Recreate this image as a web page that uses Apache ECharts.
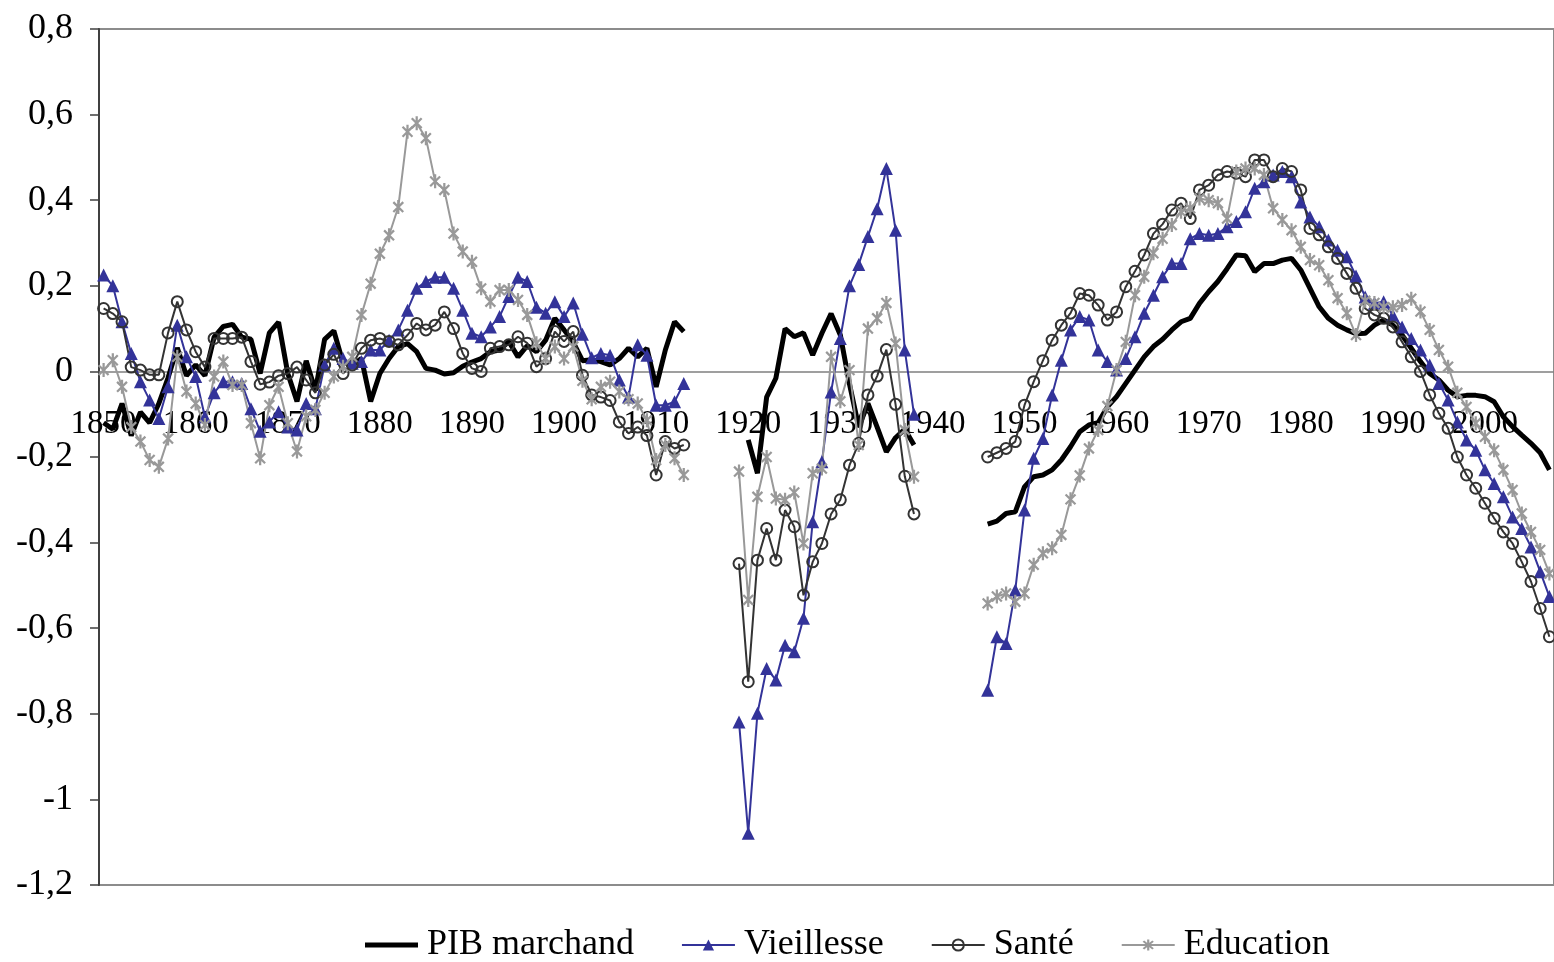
<!DOCTYPE html>
<html>
<head>
<meta charset="utf-8">
<script src="https://cdn.jsdelivr.net/npm/echarts@6/dist/echarts.min.js"></script>
<style>
  html, body { margin: 0; padding: 0; background: #ffffff; }
  #chart { width: 1554px; height: 962px; }
</style>
</head>
<body>
<div id="chart"></div>
<script>
// Years 1850..2007 (one category per year)
const firstYear = 1850;
const lastYear = 2007;
const years = [];
for (let y = firstYear; y <= lastYear; y++) years.push(String(y));

const yTicks = { min: -1.2, max: 0.8, step: 0.2 };

const seriesNames = ['PIB marchand', 'Vieillesse', 'Santé', 'Education'];

// PIB marchand
const pib = [
  -0.12, -0.135, -0.075, -0.15, -0.095, -0.12, -0.075, -0.015, 0.055, -0.01,
  0.015, -0.01, 0.08, 0.105, 0.11, 0.08, 0.075, -0.005, 0.09, 0.115,
  -0.005, -0.07, 0.025, -0.045, 0.075, 0.095, 0.02, 0.015, 0.03, -0.07,
  -0.005, 0.03, 0.058, 0.065, 0.046, 0.007, 0.003, -0.006, -0.003, 0.012,
  0.022, 0.03, 0.046, 0.05, 0.07, 0.034, 0.06, 0.046, 0.073, 0.124,
  0.097, 0.068, 0.025, 0.027, 0.023, 0.015, 0.03, 0.054, 0.034, 0.054,
  -0.036, 0.05, 0.116, 0.093,
  null, null, null, null, null, null,
  -0.16, -0.238, -0.06, -0.016, 0.1, 0.081, 0.09, 0.038, 0.089, 0.135,
  0.085, -0.03, -0.13, -0.075, -0.13, -0.188, -0.155, -0.135, -0.172,
  null, null, null, null, null, null, null,
  -0.357, -0.35, -0.332, -0.328, -0.27, -0.246, -0.242, -0.23, -0.207, -0.176,
  -0.141, -0.125, -0.12, -0.083, -0.059, -0.028, 0.003, 0.034, 0.058, 0.075,
  0.097, 0.116, 0.124, 0.159, 0.186, 0.21, 0.24, 0.272, 0.27, 0.233,
  0.252, 0.252, 0.26, 0.264, 0.237, 0.194, 0.151, 0.124, 0.108, 0.097,
  0.088, 0.089, 0.108, 0.12, 0.108, 0.085, 0.054, 0.023, -0.005, -0.02,
  -0.044, -0.059, -0.056, -0.056, -0.059, -0.071, -0.106, -0.129, -0.149, -0.168,
  -0.19, -0.23
];

// Vieillesse
const vieillesse = [
  0.225, 0.2, 0.116, 0.042, -0.024, -0.067, -0.11, -0.036, 0.108, 0.034,
  -0.012, -0.106, -0.05, -0.024, -0.024, -0.028, -0.087, -0.14, -0.118, -0.094,
  -0.13, -0.137, -0.075, -0.087, 0.015, 0.054, 0.03, 0.019, 0.023, 0.05,
  0.05, 0.073, 0.097, 0.143, 0.194, 0.21, 0.22, 0.22, 0.194, 0.143,
  0.089, 0.081, 0.104, 0.128, 0.175, 0.22, 0.21, 0.15, 0.136, 0.163,
  0.128, 0.16, 0.087, 0.032, 0.042, 0.038, -0.02, -0.06, 0.062, 0.038,
  -0.079, -0.079, -0.071, -0.028,
  null, null, null, null, null,
  -0.819, -1.079, -0.799, -0.694, -0.721, -0.64, -0.655, -0.577, -0.351, -0.211,
  -0.048, 0.077, 0.2, 0.25, 0.315, 0.38, 0.474, 0.33, 0.05, -0.1,
  null, null, null, null, null, null, null,
  -0.745, -0.62, -0.636, -0.511, -0.324, -0.203, -0.157, -0.055, 0.026, 0.097,
  0.128, 0.12, 0.05, 0.023, 0.003, 0.03, 0.081, 0.136, 0.178, 0.221,
  0.252, 0.252, 0.31, 0.322, 0.318, 0.322, 0.338, 0.35, 0.373, 0.428,
  0.443, 0.459, 0.467, 0.455, 0.396, 0.361, 0.338, 0.307, 0.283, 0.268,
  0.223, 0.174, 0.159, 0.163, 0.132, 0.104, 0.077, 0.05, 0.015, -0.028,
  -0.067, -0.118, -0.16, -0.184, -0.23, -0.262, -0.293, -0.34, -0.367, -0.41,
  -0.468, -0.526
];

// Santé
const sante = [
  0.147, 0.135, 0.116, 0.01, 0.003, -0.008, -0.008, 0.09, 0.163, 0.097,
  0.046, 0.01, 0.077, 0.077, 0.077, 0.08, 0.023, -0.03, -0.025, -0.01,
  -0.005, 0.01, -0.02, -0.05, 0.015, 0.04, -0.005, 0.015, 0.054, 0.073,
  0.077, 0.07, 0.062, 0.085, 0.112, 0.097, 0.108, 0.139, 0.1, 0.042,
  0.007, 0.0, 0.054, 0.058, 0.062, 0.081, 0.066, 0.011, 0.03, 0.093,
  0.07, 0.093, -0.009, -0.055, -0.06, -0.068, -0.118, -0.145, -0.13, -0.15,
  -0.242, -0.164, -0.18, -0.172,
  null, null, null, null, null,
  -0.449, -0.725, -0.441, -0.367, -0.441, -0.324, -0.363, -0.523, -0.445, -0.402,
  -0.333, -0.3, -0.219, -0.168, -0.055, -0.011, 0.051, -0.077, -0.245, -0.333,
  null, null, null, null, null, null, null,
  -0.2, -0.19, -0.18, -0.164, -0.079, -0.024, 0.025, 0.073, 0.108, 0.136,
  0.182, 0.178, 0.155, 0.12, 0.139, 0.198, 0.234, 0.272, 0.322, 0.344,
  0.377, 0.393, 0.357, 0.424, 0.435, 0.459, 0.467, 0.463, 0.455, 0.494,
  0.494, 0.455, 0.474, 0.467, 0.424, 0.334, 0.319, 0.291, 0.264, 0.229,
  0.194, 0.147, 0.132, 0.124, 0.104, 0.069, 0.034, 0.0, -0.055, -0.098,
  -0.133, -0.2, -0.242, -0.273, -0.308, -0.343, -0.375, -0.402, -0.445, -0.491,
  -0.554, -0.62
];

// Education
const education = [
  0.003, 0.026, -0.036, -0.13, -0.164, -0.207, -0.223, -0.157, 0.034, -0.047,
  -0.075, -0.125, -0.012, 0.023, -0.032, -0.032, -0.121, -0.203, -0.079, -0.036,
  -0.121, -0.187, -0.105, -0.09, -0.05, -0.012, 0.011, 0.034, 0.132, 0.205,
  0.275, 0.318, 0.384, 0.56, 0.58, 0.545, 0.444, 0.424, 0.322, 0.28,
  0.256, 0.194, 0.163, 0.19, 0.19, 0.167, 0.132, 0.066, 0.03, 0.058,
  0.03, 0.058, -0.022, -0.065, -0.036, -0.024, -0.047, -0.065, -0.075, -0.114,
  -0.207, -0.172, -0.203, -0.242,
  null, null, null, null, null,
  -0.234, -0.534, -0.293, -0.2, -0.297, -0.3, -0.283, -0.402, -0.238, -0.227,
  0.034, -0.07, 0.003, -0.172, 0.1, 0.124, 0.16, 0.065, -0.137, -0.246,
  null, null, null, null, null, null, null,
  -0.542, -0.526, -0.519, -0.538, -0.519, -0.452, -0.425, -0.413, -0.382, -0.299,
  -0.243, -0.18, -0.137, -0.081, 0.003, 0.069, 0.178, 0.221, 0.276, 0.31,
  0.342, 0.373, 0.381, 0.404, 0.4, 0.393, 0.357, 0.467, 0.474, 0.474,
  0.459, 0.381, 0.354, 0.33, 0.291, 0.26, 0.248, 0.213, 0.171, 0.136,
  0.085, 0.165, 0.16, 0.15, 0.15, 0.155, 0.17, 0.14, 0.097, 0.05,
  0.011, -0.05, -0.083, -0.121, -0.153, -0.184, -0.23, -0.277, -0.332, -0.375,
  -0.417, -0.472
];

const FONT = "'Liberation Serif', 'Times New Roman', serif";
const asterisk = 'path://M-1.6,-10L1.6,-10L1.6,10L-1.6,10Z' +
  'M5.94,8.2L-8.2,-5.94L-5.94,-8.2L8.2,5.94Z' +
  'M8.2,-5.94L-5.94,8.2L-8.2,5.94L5.94,-8.2Z';
// legend icon for the thick black line: 53x14 box, 5px strip in the middle
const thickLineIcon = 'path://M0,0L0.01,0L0,0.01Z M53,14L52.99,14L53,13.99Z M0,4.5L53,4.5L53,9.5L0,9.5Z';

const GRID_TOP = 29, GRID_BOTTOM = 77, CHART_H = 962;
const plotH = CHART_H - GRID_TOP - GRID_BOTTOM;
const zeroFromBottom = plotH * (0 - yTicks.min) / (yTicks.max - yTicks.min);

const chart = echarts.init(document.getElementById('chart'), null, { renderer: 'canvas' });

chart.setOption({
  animation: false,
  backgroundColor: '#ffffff',
  grid: {
    left: 99, right: 0, top: GRID_TOP, bottom: GRID_BOTTOM,
    show: true, borderColor: '#8c8c8c', borderWidth: 2, backgroundColor: 'transparent'
  },
  legend: {
    left: 360, top: 922,
    itemWidth: 53, itemHeight: 14, itemGap: 47,
    textStyle: { fontFamily: FONT, fontSize: 36, color: '#000', padding: [0, 0, 0, 4] },
    data: [
      { name: seriesNames[0], icon: thickLineIcon, itemStyle: { color: '#000' } },
      seriesNames[1], seriesNames[2], seriesNames[3]
    ]
  },
  xAxis: {
    type: 'category',
    data: years,
    boundaryGap: true,
    position: 'bottom',
    offset: -zeroFromBottom,
    axisLine: { onZero: false, lineStyle: { color: '#808080', width: 1.5 } },
    axisTick: { interval: 9, length: 9, lineStyle: { color: '#808080', width: 1.5 } },
    axisLabel: { interval: 9, margin: 36, fontFamily: FONT, fontSize: 33, color: '#000' },
    splitLine: { show: false }
  },
  yAxis: {
    type: 'value',
    min: yTicks.min, max: yTicks.max, interval: yTicks.step,
    axisLine: { show: true, lineStyle: { color: '#404040', width: 2 } },
    axisTick: { show: true, length: 9, lineStyle: { color: '#404040', width: 1.5 } },
    axisLabel: {
      margin: 26, fontFamily: FONT, fontSize: 36, color: '#000',
      formatter: function (v) { return String(Number(v.toFixed(1))).replace('.', ','); }
    },
    splitLine: { show: false }
  },
  series: [
    {
      name: seriesNames[0], type: 'line', data: pib,
      showSymbol: false, symbol: 'none',
      lineStyle: { color: '#000000', width: 5 },
      itemStyle: { color: '#000000' }
    },
    {
      name: seriesNames[1], type: 'line', data: vieillesse,
      symbol: 'triangle', symbolSize: 13, showAllSymbol: true,
      lineStyle: { color: '#333399', width: 2 },
      itemStyle: { color: '#333399', borderWidth: 0 }
    },
    {
      name: seriesNames[2], type: 'line', data: sante,
      symbol: 'circle', symbolSize: 11, showAllSymbol: true,
      lineStyle: { color: '#333333', width: 2 },
      itemStyle: { color: 'rgba(255,255,255,0)', borderColor: '#333333', borderWidth: 2 }
    },
    {
      name: seriesNames[3], type: 'line', data: education,
      symbol: asterisk, symbolSize: 14, symbolKeepAspect: true, showAllSymbol: true,
      lineStyle: { color: '#999999', width: 2 },
      itemStyle: { color: '#999999', borderWidth: 0 }
    }
  ]
});
</script>
</body>
</html>
